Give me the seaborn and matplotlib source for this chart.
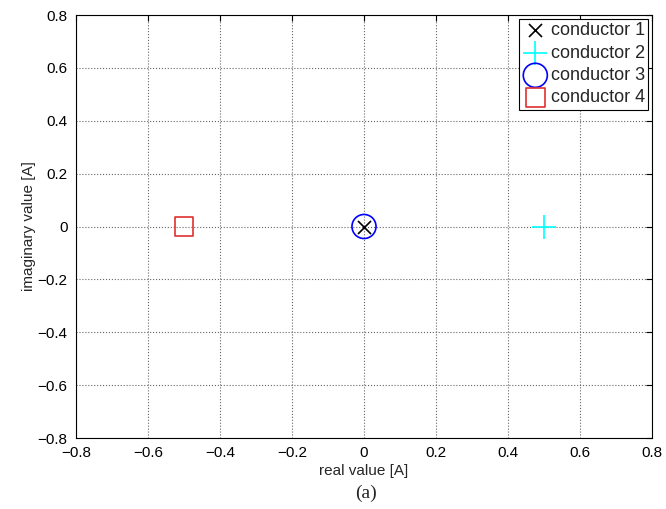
import numpy as np
import pandas as pd
import matplotlib
matplotlib.use("Agg")
import matplotlib.pyplot as plt
import seaborn as sns

# phasor values of the four conductor currents
conductors = ["conductor 1", "conductor 2", "conductor 3", "conductor 4"]
real_vals = [0.0, 0.5, 0.0, -0.5]
imag_vals = [0.0, 0.0, 0.0, 0.0]

ticks = [-0.8, -0.6, -0.4, -0.2, 0, 0.2, 0.4, 0.6, 0.8]
tick_labels = ["\u22120.8", "\u22120.6", "\u22120.4", "\u22120.2", "0", "0.2", "0.4", "0.6", "0.8"]

df = pd.DataFrame({"name": conductors, "re": real_vals, "im": imag_vals})

sns.set_style("white")
plt.rcParams["font.family"] = ["Liberation Sans", "DejaVu Sans"]

fig = plt.figure(figsize=(6.66, 5.09), dpi=100)
ax = fig.add_axes([76 / 666, 1 - 438 / 509, 576 / 666, 423 / 509])

styles = {
    "conductor 1": dict(marker="x", s=88, color="black", linewidth=1.2),
    "conductor 2": dict(marker="+", s=300, color="cyan", linewidth=1.2),
    "conductor 3": dict(marker="o", s=300, facecolor="none", edgecolor="blue", linewidth=1.2),
    "conductor 4": dict(marker="s", s=187, facecolor="none", edgecolor="#e03030", linewidth=1.2),
}

for _, row in df.iterrows():
    sns.scatterplot(x=[row["re"]], y=[row["im"]], ax=ax, label=row["name"],
                    zorder=3, **styles[row["name"]])

ax.set_xlim(-0.8, 0.8)
ax.set_ylim(-0.8, 0.8)
ax.set_xticks(ticks)
ax.set_yticks(ticks)
ax.set_xticklabels(tick_labels)
ax.set_yticklabels(tick_labels)
ax.tick_params(direction="in", top=True, right=True, length=4, width=0.8,
               labelsize=11, colors="black", pad=6)
ax.grid(True, linestyle=":", color="#666666", linewidth=0.8)
for sp in ax.spines.values():
    sp.set_color("black")
    sp.set_linewidth(0.8)

ax.set_xlabel("real value [A]", fontsize=11, labelpad=3)
ax.set_ylabel("imaginary value [A]", fontsize=11, labelpad=1)

leg = ax.legend(loc="upper right", fontsize=13, frameon=True, fancybox=False,
                handlelength=1.4, handletextpad=0.15, labelspacing=0.3,
                borderpad=0.2, borderaxespad=0.2, framealpha=1)
leg.get_frame().set_edgecolor("black")
leg.get_frame().set_linewidth(0.8)

fig.text(366 / 666, 1 - 493 / 509, "(a)", ha="center", va="center",
         fontsize=14, family=["Liberation Serif", "DejaVu Serif"])

fig.savefig("out.png", dpi=100)
